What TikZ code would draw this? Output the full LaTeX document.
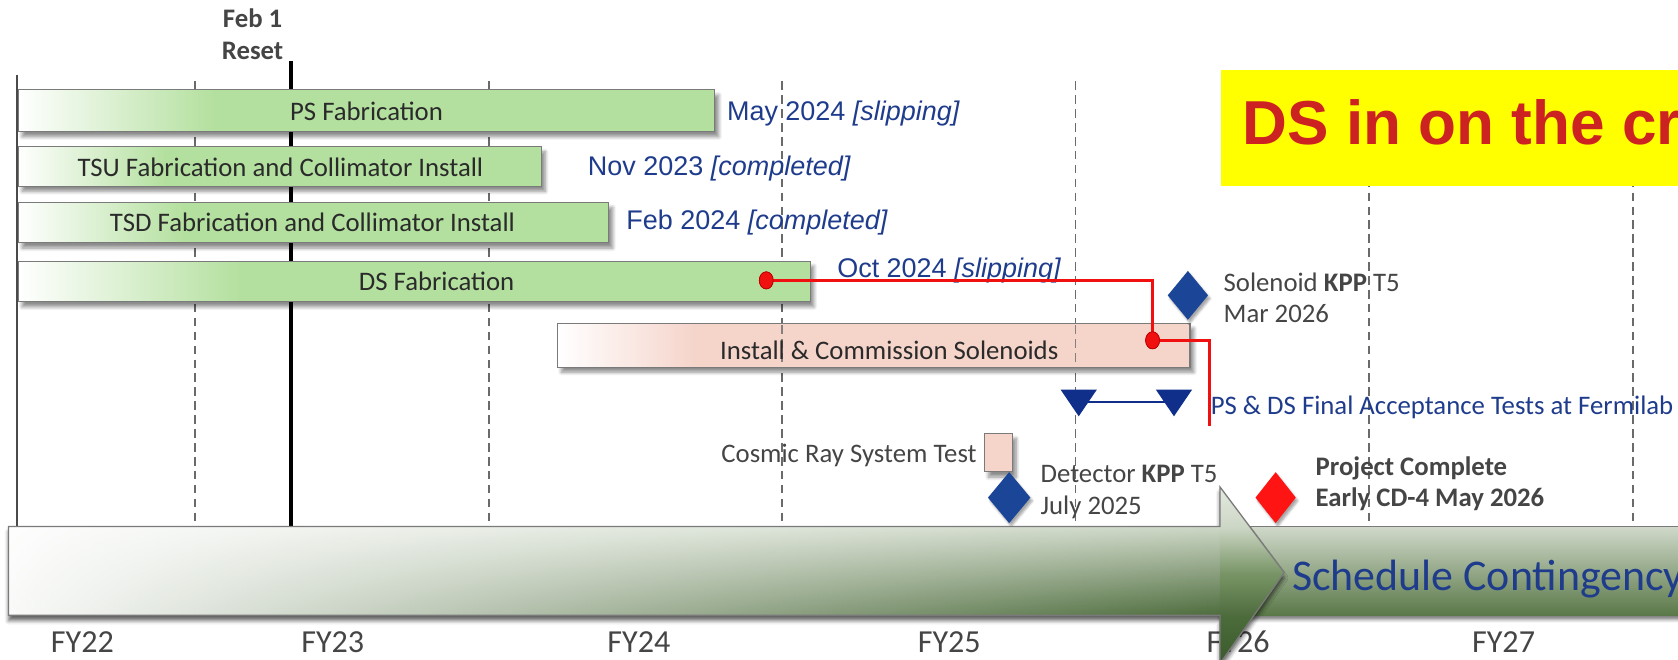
\documentclass[tikz,border=0pt]{standalone}
\usepackage{fontspec}
\setmainfont{Carlito}
\newfontfamily\arialfont{Liberation Sans}
\usetikzlibrary{shadows.blur,fadings,shapes.geometric}

\definecolor{barG}{HTML}{B4E09F}
\definecolor{barPink}{HTML}{F5D4CA}
\definecolor{barEdge}{HTML}{7A7A7A}
\definecolor{lblBlue}{HTML}{1F3C8C}
\definecolor{txtGrey}{HTML}{454545}
\definecolor{barTxt}{HTML}{2A2A2A}
\definecolor{gridGrey}{HTML}{6A6A6A}
\definecolor{kppBlue}{HTML}{1B4597}
\definecolor{navyTri}{HTML}{0F2F8A}
\definecolor{doneRed}{HTML}{FF1414}
\definecolor{linkRed}{HTML}{F01010}
\definecolor{alarmRed}{HTML}{CC2222}
\definecolor{noteYellow}{HTML}{FFFF00}
\definecolor{bodyTop}{HTML}{CDD7C6}
\definecolor{bodyMid}{HTML}{7A9668}
\definecolor{bodyBot}{HTML}{4D6C3C}
\definecolor{headTop}{HTML}{E4E9E0}
\definecolor{headBot}{HTML}{3A5A2B}
\definecolor{bandTop}{HTML}{D0D9CA}
\definecolor{bandBot}{HTML}{5A7848}

\pgfdeclarehorizontalshading{greenbarfill}{100bp}{color(0bp)=(white); color(25bp)=(white); color(39bp)=(barG); color(100bp)=(barG)}
\pgfdeclarehorizontalshading{pinkbarfill}{100bp}{color(0bp)=(white); color(25bp)=(white); color(36bp)=(barPink); color(100bp)=(barPink)}
% arrow head: colours listed from bottom to top, matching the body where they meet
\pgfdeclareverticalshading{headfill}{100bp}{color(0bp)=(headBot); color(25bp)=(headBot); color(38.6bp)=(bodyBot); color(50.8bp)=(bodyMid); color(63.8bp)=(bodyTop); color(75bp)=(headTop); color(100bp)=(headTop)}
\tikzfading[name=leftwash, left color=transparent!3, middle color=transparent!78, right color=transparent!100]

% outline of the timeline arrow (body plus head)
\newcommand{\contarrowpath}{(8,492) -- (1140,492) -- (1140,455) -- (1200,535) -- (1140,620) -- (1140,575) -- (8,575) -- cycle}

\tikzset{
  gridline/.style={gridGrey, line width=0.9pt, dash pattern=on 4pt off 2.5pt},
  barshadow/.style={blur shadow={shadow xshift=1.8pt, shadow yshift=-2.4pt, shadow opacity=45, shadow blur radius=1.6pt, shadow blur steps=8}},
  barbase/.style={draw=barEdge, line width=0.5pt, inner sep=0pt, barshadow},
  greenbar/.style={barbase, shade, shading=greenbarfill},
  pinkbar/.style={barbase, shade, shading=pinkbarfill},
  bartext/.style={inner sep=0pt, text=barTxt, font=\fontsize{12.5}{15}\selectfont},
  datelbl/.style={inner sep=0pt, anchor=base west, text=lblBlue, font=\arialfont\fontsize{12.6}{15}\selectfont},
  greylbl/.style={inner sep=0pt, text=txtGrey, font=\fontsize{12.5}{15}\selectfont},
  fylbl/.style={inner sep=0pt, anchor=base, text=txtGrey, font=\fontsize{15}{18}\selectfont},
  milestone/.style={diamond, inner sep=0pt, blur shadow={shadow xshift=1pt, shadow yshift=-1.5pt, shadow opacity=35, shadow blur radius=1pt}},
  reddot/.style={ellipse, fill=linkRed, draw=red!70!black, line width=0.3pt, inner sep=0pt, minimum width=6.5pt, minimum height=8pt},
  redlink/.style={linkRed, line width=1.5pt},
}

\begin{document}
\begin{tikzpicture}[x=0.5pt,y=-0.5pt]
\useasboundingbox (0,0) rectangle (1568,616);

% fiscal-year grid
\foreach \gx in {182,457,731,1005,1279,1526}
  \draw[gridline] (\gx,76) -- (\gx,492);
\draw[black, line width=1.6pt] (272,57) -- (272,492);

% reset marker
\node[greylbl, anchor=base, font=\bfseries\fontsize{12.5}{15}\selectfont] (feb) at (236,26) {Feb 1};
\node[greylbl, anchor=base, font=\bfseries\fontsize{12.5}{15}\selectfont] (reset) at (236,56) {Reset};

% fabrication bars
\node[greenbar, minimum width=325.5pt, minimum height=19.5pt] (psbar) at (342.5,103.5) {};
\node[bartext] (pstxt) at (342.5,104) {PS Fabrication};
\node[greenbar, minimum width=244.5pt, minimum height=18.5pt] (tsubar) at (261.5,155.5) {};
\node[bartext] (tsutxt) at (262,156) {TSU Fabrication and Collimator Install};
\node[greenbar, minimum width=276pt, minimum height=19pt] (tsdbar) at (293,208) {};
\node[bartext] (tsdtxt) at (292,208) {TSD Fabrication and Collimator Install};
\node[greenbar, minimum width=370pt, minimum height=19pt] (dsbar) at (387,263) {};
\node[bartext] (dstxt) at (408,263) {DS Fabrication};
\node[pinkbar, minimum width=295.5pt, minimum height=20.5pt] (insbar) at (816.5,322.5) {};
\draw[gridline, opacity=0.8] (731,304) -- (731,341) (1005,304) -- (1005,341);
\node[bartext] (instxt) at (831,327) {Install \& Commission Solenoids};

% left axis
\draw[gridGrey!70!black, line width=0.9pt] (16,70) -- (16,492);

% completion dates
\node[datelbl] (psdate) at (679,113) {May 2024 \textit{[slipping]}};
\node[datelbl] (tsudate) at (549,164) {Nov 2023 \textit{[completed]}};
\node[datelbl] (tsddate) at (585,214) {Feb 2024 \textit{[completed]}};
\node[datelbl] (dsdate) at (782,259) {Oct 2024 \textit{[slipping]}};

% critical path note
\node[fill=noteYellow, inner sep=0pt, minimum width=214pt, minimum height=54pt, anchor=north west] (note) at (1141,65) {};
\node[inner sep=0pt, anchor=base west, text=alarmRed, font=\arialfont\bfseries\fontsize{29}{34}\selectfont] (notetxt) at (1161,135) {DS in on the cr};

% solenoid milestone
\node[milestone, fill=kppBlue, minimum width=19pt, minimum height=23pt] (solkpp) at (1110,276) {};
\node[greylbl, anchor=base west] (solkpptxt) at (1143,272) {Solenoid \textbf{KPP} T5};
\node[greylbl, anchor=base west] (solkppdate) at (1143,301) {Mar 2026};

% acceptance tests
\coordinate (fatL) at (1008,376);
\coordinate (fatR) at (1097,376);
\draw[navyTri, line width=1pt] (fatL) -- (fatR);
\fill[navyTri] ([shift={(-17,-12)}]fatL) -- ([shift={(17,-12)}]fatL) -- ([shift={(0,13)}]fatL) -- cycle;
\fill[navyTri] ([shift={(-17,-12)}]fatR) -- ([shift={(17,-12)}]fatR) -- ([shift={(0,13)}]fatR) -- cycle;
\node[inner sep=0pt, anchor=base west, text=lblBlue, font=\fontsize{12.5}{15}\selectfont] (fattxt) at (1131,387) {PS \& DS Final Acceptance Tests at Fermilab};

% red critical path
\node[reddot] (dsdot) at (716,262) {};
\node[reddot] (insdot) at (1077,318) {};
\coordinate (redend) at (1130,398);
\draw[redlink] (dsdot.center) -| (insdot.center);
\draw[redlink] (insdot.center) -| (redend);
\node[reddot] at (dsdot) {};
\node[reddot] at (insdot) {};

% cosmic ray test
\node[greylbl, anchor=base east] (cosmictxt) at (913,432) {Cosmic Ray System Test};
\node[fill=barPink, draw=barEdge, line width=0.5pt, inner sep=0pt, minimum width=13pt, minimum height=18pt, barshadow] (cosmicbox) at (933,423) {};

% detector milestone
\node[milestone, fill=kppBlue, minimum width=20pt, minimum height=24pt] (detkpp) at (943,465) {};
\node[greylbl, anchor=base west] (detkpptxt) at (972,451) {Detector \textbf{KPP} T5};
\node[greylbl, anchor=base west] (detkppdate) at (972,481) {July 2025};

% project completion
\node[milestone, fill=doneRed, minimum width=19pt, minimum height=24pt] (cd4) at (1192,465) {};
\node[greylbl, anchor=base west, font=\bfseries\fontsize{12.5}{15}\selectfont] (cd4txt) at (1229,444) {Project Complete};
\node[greylbl, anchor=base west, font=\bfseries\fontsize{12.5}{15}\selectfont] (cd4date) at (1229,473) {Early CD-4 May 2026};

% fiscal-year labels
\node[fylbl] (fy22) at (77,610) {FY22};
\node[fylbl] (fy23) at (311,610) {FY23};
\node[fylbl] (fy24) at (597,610) {FY24};
\node[fylbl] (fy25) at (887,610) {FY25};
\node[fylbl] (fy26) at (1157,610) {FY26};
\node[fylbl] (fy27) at (1405,610) {FY27};

% contingency band
\shade[top color=bandTop, bottom color=bandBot, blur shadow={shadow xshift=0pt, shadow yshift=-2pt, shadow opacity=50, shadow blur radius=1.5pt}] (1140,492) rectangle (1575,575);
\draw[barEdge, line width=0.6pt] (1140,492) -- (1575,492);

% timeline arrow: green body washed to white at its left end, darker head
\path[blur shadow={shadow xshift=0pt, shadow yshift=-2.5pt, shadow opacity=60, shadow blur radius=1.8pt}] \contarrowpath;
\shade[top color=bodyTop, middle color=bodyMid, bottom color=bodyBot] (8,492) rectangle (1140.5,575);
\fill[white, path fading=leftwash] (8,492) rectangle (1140.5,575);
\shade[shading=headfill] (1140,455) -- (1200,535) -- (1140,620) -- cycle;
\draw[barEdge, line width=0.6pt] \contarrowpath;

\node[inner sep=0pt, anchor=base west, text=lblBlue, font=\fontsize{20.5}{24}\selectfont] (conttxt) at (1207,552) {Schedule Contingency};
\end{tikzpicture}
\end{document}
